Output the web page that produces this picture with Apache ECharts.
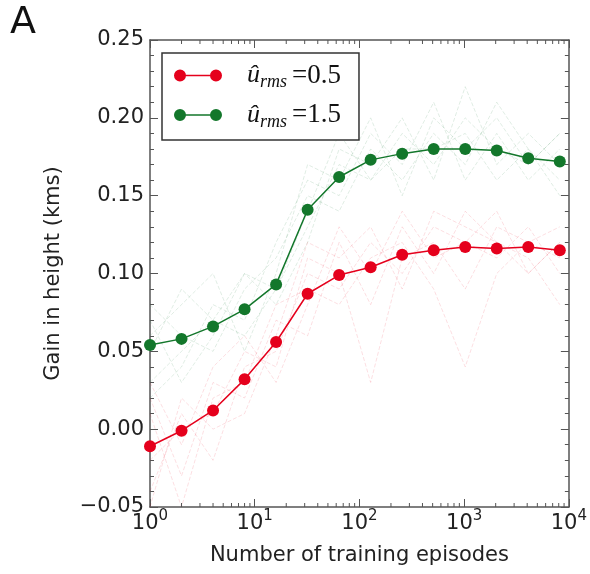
<!DOCTYPE html>
<html>
<head>
<meta charset="utf-8">
<script src="https://cdn.jsdelivr.net/npm/echarts@6/dist/echarts.min.js"></script>
<style>
  html, body { margin: 0; padding: 0; background: #fff; }
  #main { width: 590px; height: 574px; }
</style>
</head>
<body>
<div id="main"></div>
<script>
var episodes = [1, 2, 4, 8, 16, 32, 64, 128, 256, 512, 1024, 2048, 4096, 8192];

var meanLow  = [-0.011, -0.001, 0.012, 0.032, 0.056, 0.087, 0.099, 0.104, 0.112, 0.115, 0.117, 0.116, 0.117, 0.115];
var meanHigh = [0.054, 0.058, 0.066, 0.077, 0.093, 0.141, 0.162, 0.173, 0.177, 0.180, 0.180, 0.179, 0.174, 0.172];

// individual runs (faint dashed)
var runsHigh = [
  [0.03, 0.05, 0.07, 0.06, 0.09, 0.13, 0.17, 0.16, 0.19, 0.17, 0.20, 0.18, 0.17, 0.19],
  [0.08, 0.06, 0.05, 0.09, 0.11, 0.15, 0.14, 0.18, 0.16, 0.19, 0.17, 0.21, 0.18, 0.16],
  [0.05, 0.09, 0.07, 0.10, 0.08, 0.12, 0.18, 0.17, 0.20, 0.16, 0.22, 0.17, 0.19, 0.17],
  [0.02, 0.04, 0.08, 0.07, 0.12, 0.16, 0.15, 0.19, 0.17, 0.21, 0.16, 0.19, 0.16, 0.18],
  [0.07, 0.03, 0.06, 0.10, 0.09, 0.14, 0.19, 0.16, 0.18, 0.18, 0.19, 0.16, 0.18, 0.15],
  [0.06, 0.08, 0.10, 0.05, 0.10, 0.17, 0.16, 0.20, 0.15, 0.20, 0.18, 0.20, 0.17, 0.19]
];
var runsLow = [
  [-0.04, 0.01, -0.02, 0.04, 0.05, 0.10, 0.09, 0.12, 0.10, 0.13, 0.12, 0.11, 0.13, 0.10],
  [0.02, -0.03, 0.03, 0.02, 0.07, 0.06, 0.12, 0.08, 0.13, 0.10, 0.14, 0.12, 0.10, 0.12],
  [-0.02, 0.00, 0.01, 0.05, 0.04, 0.11, 0.10, 0.03, 0.11, 0.12, 0.09, 0.13, 0.12, 0.11],
  [0.01, -0.05, 0.02, 0.03, 0.08, 0.09, 0.08, 0.11, 0.12, 0.09, 0.04, 0.10, 0.12, 0.13],
  [-0.05, 0.02, 0.00, 0.01, 0.06, 0.12, 0.11, 0.13, 0.09, 0.14, 0.13, 0.12, 0.11, 0.08],
  [0.03, -0.01, 0.04, 0.06, 0.03, 0.08, 0.13, 0.10, 0.14, 0.11, 0.12, 0.14, 0.10, 0.12]
];

var seriesNames = ['low', 'high'];
var legendValues = ['0.5', '1.5'];
var RED = '#e5001c', GREEN = '#13772b';

// minor ticks of the log axis: 2..9 in each decade
var minorX = [];
for (var d = 1; d < 10000; d *= 10) {
  for (var k = 2; k <= 9; k++) minorX.push(d * k);
}

function pairs(vals) {
  return episodes.map(function (x, i) { return [x, vals[i]]; });
}

var series = [];
runsHigh.forEach(function (r) {
  series.push({ type: 'line', data: pairs(r), symbol: 'none', silent: true, z: 1,
    lineStyle: { color: GREEN, width: 1, type: 'dashed', opacity: 0.13 } });
});
runsLow.forEach(function (r) {
  series.push({ type: 'line', data: pairs(r), symbol: 'none', silent: true, z: 1,
    lineStyle: { color: RED, width: 1, type: 'dashed', opacity: 0.13 } });
});
series.push({
  name: 'low', type: 'line', data: pairs(meanLow), z: 5,
  symbol: 'circle', symbolSize: 12, itemStyle: { color: RED },
  lineStyle: { color: RED, width: 1.5 }
});
series.push({
  name: 'high', type: 'line', data: pairs(meanHigh), z: 5,
  symbol: 'circle', symbolSize: 12, itemStyle: { color: GREEN },
  lineStyle: { color: GREEN, width: 1.5 }
});
// log minor ticks, bottom and top
series.push({
  type: 'custom', silent: true, z: 6, clip: false,
  data: minorX.map(function (v) { return [v, -0.05]; }),
  renderItem: function (params, api) {
    var p = api.coord([api.value(0), api.value(1)]);
    var cs = params.coordSys;
    return {
      type: 'group',
      children: [
        { type: 'line', shape: { x1: p[0], y1: cs.y + cs.height, x2: p[0], y2: cs.y + cs.height - 4 },
          style: { stroke: '#555', lineWidth: 1 } },
        { type: 'line', shape: { x1: p[0], y1: cs.y, x2: p[0], y2: cs.y + 4 },
          style: { stroke: '#555', lineWidth: 1 } }
      ]
    };
  }
});

var legendIcon = 'path://M0,6A6,6,0,1,1,12,6A6,6,0,1,1,0,6ZM36,6A6,6,0,1,1,48,6A6,6,0,1,1,36,6ZM11,5.3L37,5.3L37,6.7L11,6.7Z';

var axisLine = { show: true, onZero: false, lineStyle: { color: '#555', width: 1.5 } };

var option = {
  backgroundColor: '#fff',
  animation: false,
  grid: { left: 150, right: 20, top: 40, bottom: 67 },
  graphic: [{
    type: 'text', left: 10, top: 4,
    style: { text: 'A', fontSize: 38, fontFamily: 'DejaVu Sans', fill: '#111' }
  }],
  legend: {
    data: seriesNames.map(function (n) { return { name: n, icon: legendIcon }; }),
    orient: 'vertical',
    left: 162, top: 53,
    itemWidth: 48, itemHeight: 12, itemGap: 10,
    padding: [9, 18, 9, 12],
    borderColor: '#333', borderWidth: 1.5, borderRadius: 0,
    backgroundColor: '#fff',
    selectedMode: false,
    formatter: function (name) {
      var v = legendValues[seriesNames.indexOf(name)];
      return '{u|û}{s|rms}{e|=' + v + '}';
    },
    textStyle: {
      rich: {
        u: { fontFamily: 'Liberation Serif', fontStyle: 'italic', fontSize: 26, lineHeight: 32,
             verticalAlign: 'middle', color: '#111', padding: [0, 0, 0, 20] },
        s: { fontFamily: 'Liberation Serif', fontStyle: 'italic', fontSize: 18, lineHeight: 15,
             verticalAlign: 'bottom', color: '#111' },
        e: { fontFamily: 'Liberation Serif', fontSize: 27, lineHeight: 32,
             verticalAlign: 'middle', color: '#111', padding: [0, 0, 0, 5] }
      }
    }
  },
  xAxis: [{
    type: 'log', logBase: 10, min: 1, max: 10000, position: 'bottom',
    name: 'Number of training episodes', nameLocation: 'middle', nameGap: 38,
    nameTextStyle: { fontFamily: 'DejaVu Sans', fontSize: 21, color: '#222' },
    axisLine: axisLine,
    axisTick: { inside: true, length: 8, lineStyle: { color: '#555', width: 1 } },
    splitLine: { show: false },
    axisLabel: {
      margin: 2,
      formatter: function (v) { return '{b|10}{p|' + Math.round(Math.log10(v)) + '}'; },
      rich: {
        b: { fontFamily: 'DejaVu Sans', fontSize: 21, lineHeight: 30, verticalAlign: 'middle', color: '#222' },
        p: { fontFamily: 'DejaVu Sans', fontSize: 15, lineHeight: 15, verticalAlign: 'top', color: '#222' }
      }
    }
  }, {
    type: 'log', logBase: 10, min: 1, max: 10000, position: 'top',
    axisLine: axisLine,
    axisTick: { inside: true, length: 8, lineStyle: { color: '#555', width: 1 } },
    axisLabel: { show: false }, splitLine: { show: false }
  }],
  yAxis: [{
    type: 'value', min: -0.05, max: 0.25, interval: 0.05, position: 'left',
    name: 'Gain in height (kms)', nameLocation: 'middle', nameGap: 86,
    nameTextStyle: { fontFamily: 'DejaVu Sans', fontSize: 21, color: '#222' },
    axisLine: axisLine,
    axisTick: { inside: true, length: 8, lineStyle: { color: '#555', width: 1 } },
    minorTick: { show: true, splitNumber: 5, length: 4, lineStyle: { color: '#555', width: 1 } },
    splitLine: { show: false },
    axisLabel: {
      margin: 6, fontFamily: 'DejaVu Sans', fontSize: 21, color: '#222',
      formatter: function (v) { return v.toFixed(2).replace('-', '\u2212'); }
    }
  }, {
    type: 'value', min: -0.05, max: 0.25, interval: 0.05, position: 'right',
    axisLine: axisLine,
    axisTick: { inside: true, length: 8, lineStyle: { color: '#555', width: 1 } },
    minorTick: { show: true, splitNumber: 5, length: 4, lineStyle: { color: '#555', width: 1 } },
    splitLine: { show: false },
    axisLabel: { show: false }
  }],
  series: series
};

var myChart = echarts.init(document.getElementById('main'));
myChart.setOption(option);
</script>
</body>
</html>
